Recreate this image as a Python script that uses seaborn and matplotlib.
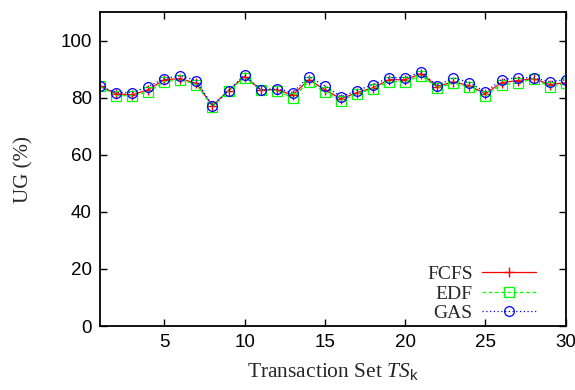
import matplotlib
matplotlib.use("Agg")
import matplotlib.pyplot as plt
import seaborn as sns
import pandas as pd

transaction_set = list(range(1, 31))
fcfs = [84.0, 81.4, 81.0, 82.8, 86.3, 86.7, 85.0, 77.2, 82.5, 87.4,
        82.8, 82.8, 81.0, 86.3, 82.8, 79.6, 81.8, 83.5, 86.3, 86.3,
        88.4, 83.9, 85.6, 84.2, 81.4, 85.3, 86.0, 86.7, 84.6, 85.3]
edf = [84.0, 80.7, 80.7, 82.0, 85.6, 86.3, 84.6, 76.8, 82.5, 87.0,
       82.8, 82.5, 80.0, 85.6, 82.0, 79.0, 81.4, 83.2, 85.6, 85.6,
       87.7, 83.5, 85.0, 83.9, 80.7, 84.6, 85.0, 86.7, 83.9, 85.0]
gas = [84.0, 81.8, 81.8, 83.9, 86.7, 87.7, 86.0, 77.2, 82.5, 88.0,
       82.8, 83.2, 81.8, 87.4, 84.2, 80.4, 82.5, 84.6, 87.0, 87.0,
       89.0, 84.2, 87.0, 85.3, 82.0, 86.3, 87.0, 87.0, 85.6, 86.3]

sns.set_theme(style="ticks")
plt.rcParams["font.family"] = ["Liberation Sans", "DejaVu Sans"]
plt.rcParams["mathtext.fontset"] = "custom"
plt.rcParams["mathtext.it"] = "Liberation Serif:italic"
plt.rcParams["mathtext.rm"] = "Liberation Serif"
plt.rcParams["mathtext.sf"] = "Liberation Sans"

fig = plt.figure(figsize=(5.75, 3.9), dpi=100)
ax = fig.add_axes([0.174, 0.164, 0.81, 0.805])

series = [
    ("FCFS", fcfs, "#ff0000", "-", dict(marker="+", markersize=7, markeredgewidth=1.0)),
    ("EDF", edf, "#00ff00", (0, (3, 2)), dict(marker="s", markersize=6.5, markerfacecolor="none", markeredgewidth=0.9)),
    ("GAS", gas, "#0000ff", (0, (1, 2)), dict(marker="o", markersize=7, markerfacecolor="none", markeredgewidth=0.9)),
]
for name, vals, color, ls, mk in series:
    df = pd.DataFrame({"ts": transaction_set, "ug": vals})
    sns.lineplot(data=df, x="ts", y="ug", ax=ax, color=color, linestyle=ls,
                 linewidth=0.9, markeredgecolor=color, label=name, **mk)

ax.set_xlim(1, 30)
ax.set_ylim(0, 110)
ax.set_xticks([5, 10, 15, 20, 25, 30])
ax.set_yticks([0, 20, 40, 60, 80, 100])
ax.tick_params(direction="in", length=5, width=1, top=True, right=True,
               labelsize=13.5, colors="black", pad=6)
for s in ax.spines.values():
    s.set_color("black")
    s.set_linewidth(1.3)

serif = ["Liberation Serif", "DejaVu Serif"]
ax.set_xlabel(r"Transaction Set $\mathit{TS}_{\mathsf{k}}$", fontsize=15.5, family=serif, labelpad=7)
ax.set_ylabel("UG (%)", fontsize=15, family=serif, labelpad=19)

leg = ax.legend(loc="lower right", bbox_to_anchor=(0.936, 0.012), frameon=False,
                markerfirst=False, prop={"family": serif, "size": 14},
                handlelength=2.8, labelspacing=0.1, borderaxespad=0.0,
                borderpad=0.0, handletextpad=0.45)

fig.savefig("out.png", dpi=100)
